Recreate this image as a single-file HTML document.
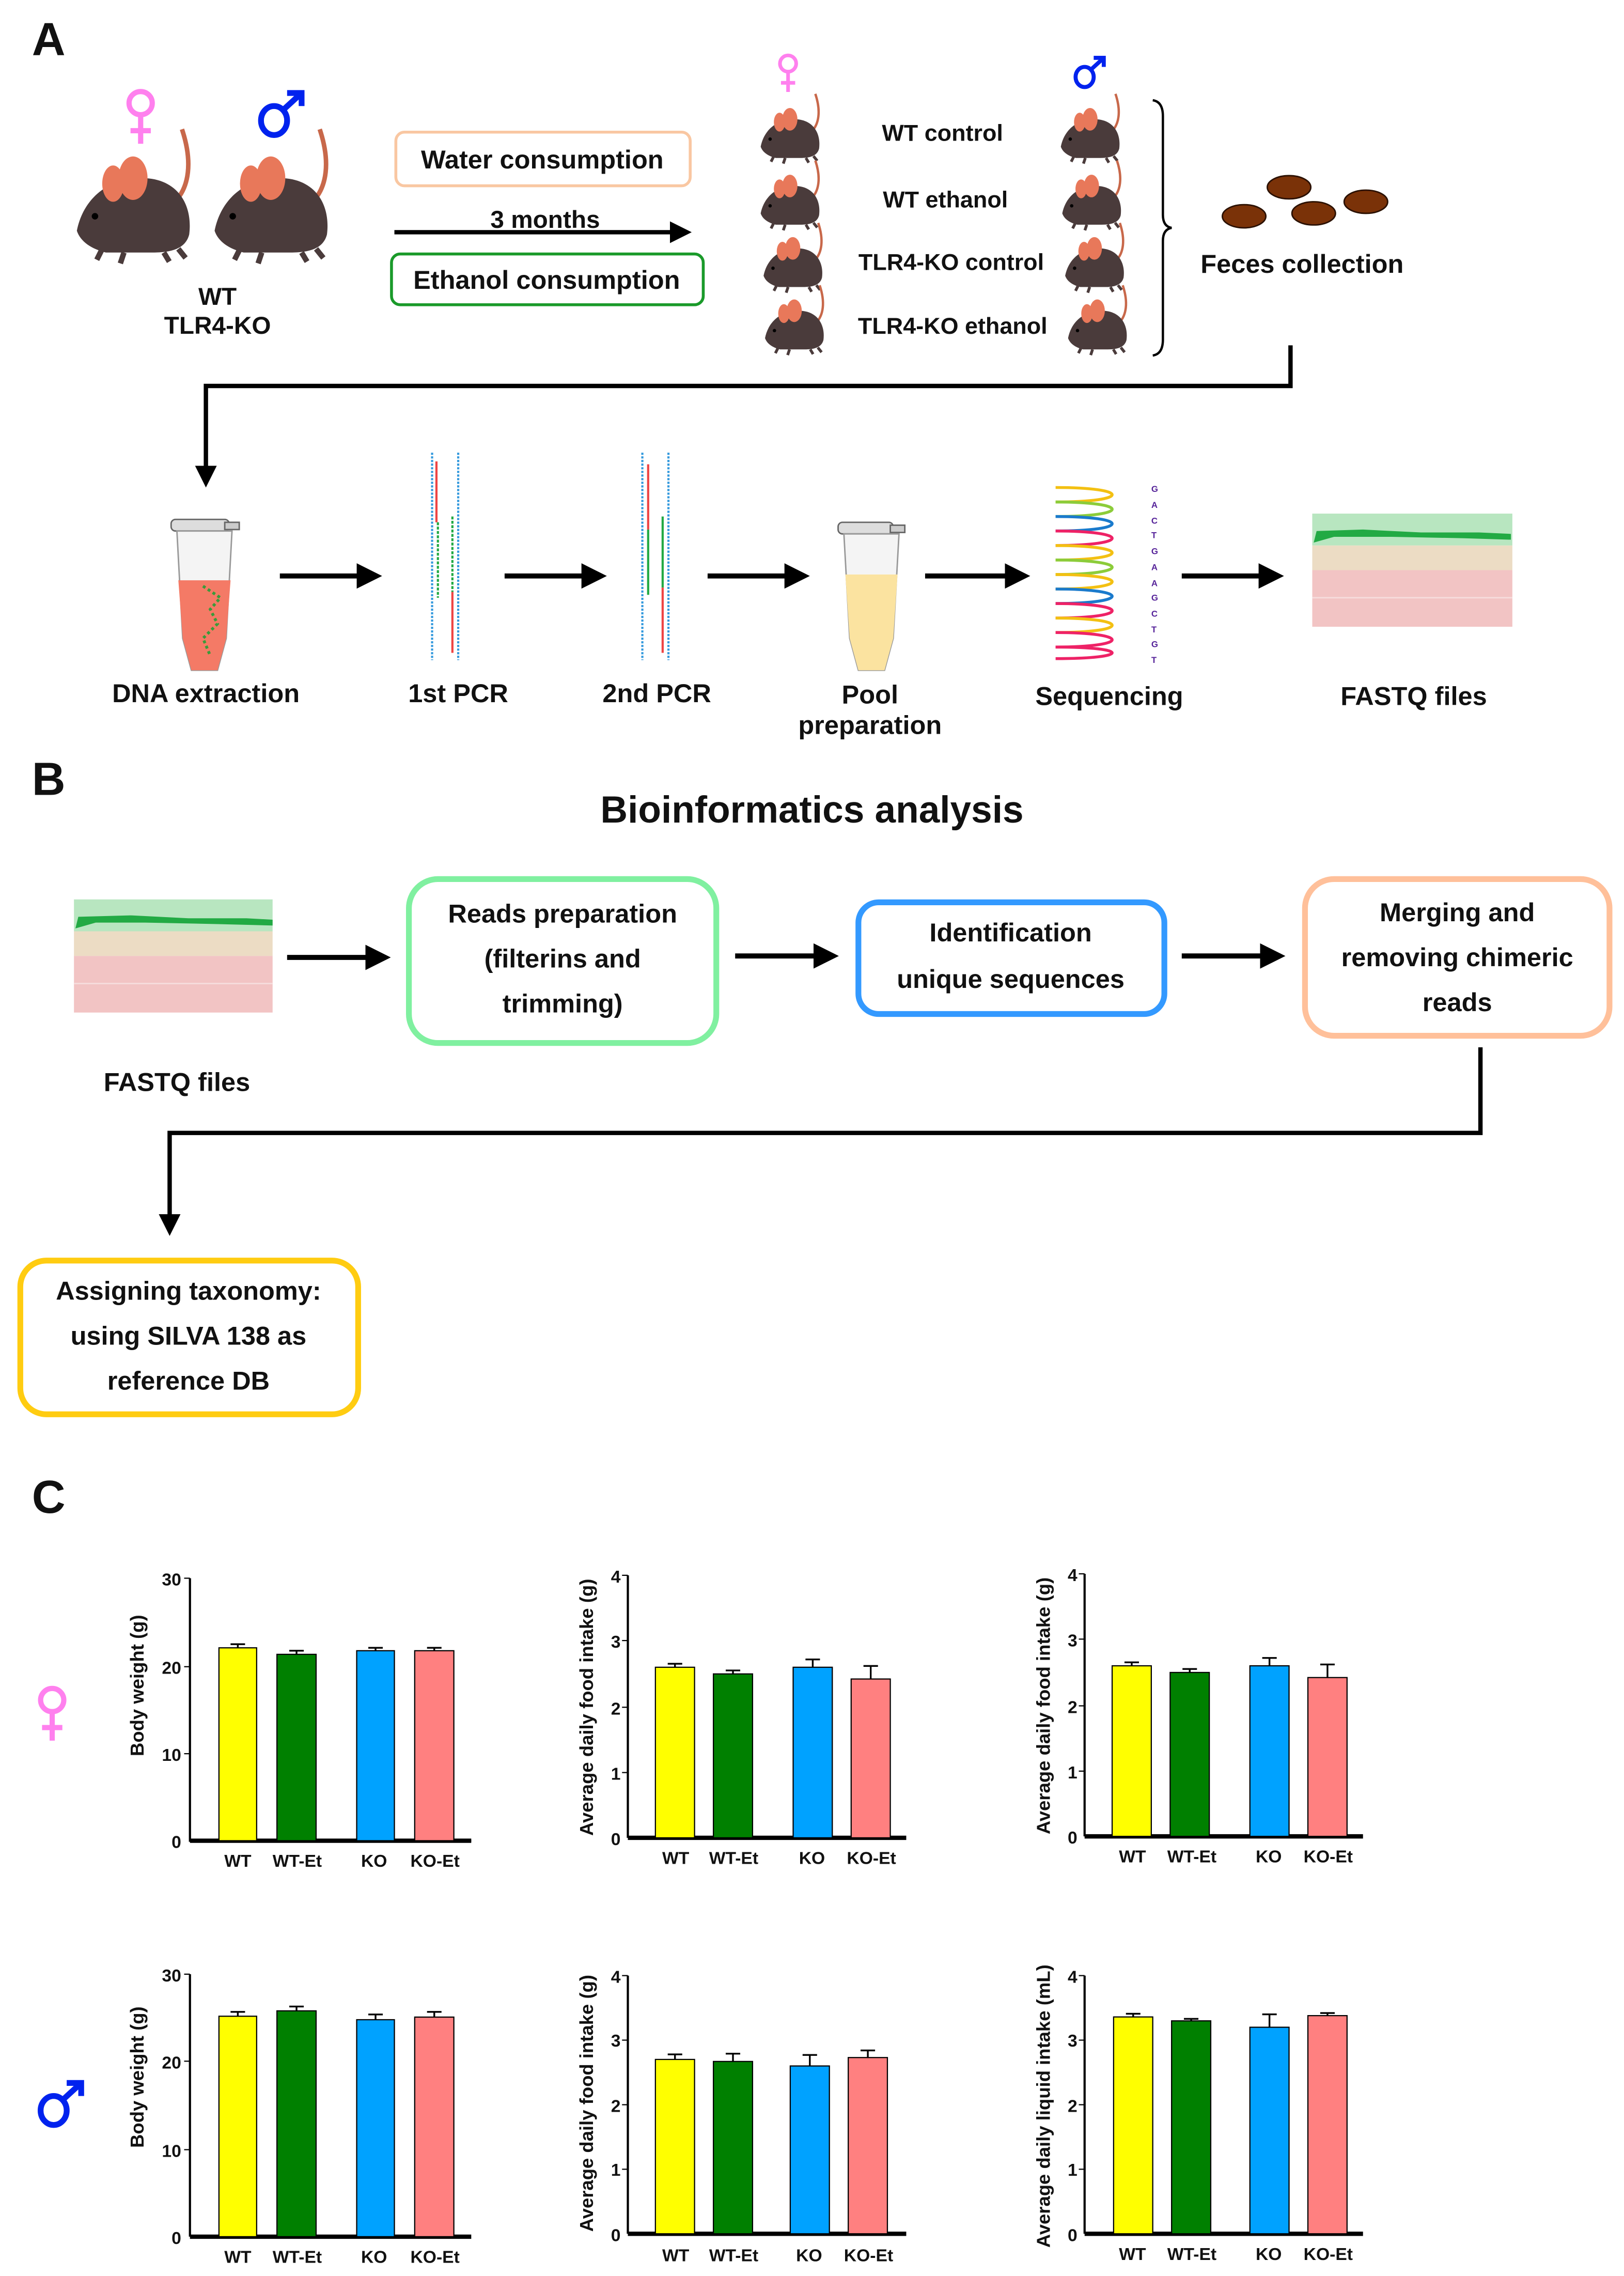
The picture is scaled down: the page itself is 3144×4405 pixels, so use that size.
<!DOCTYPE html>
<html><head><meta charset="utf-8"><style>
html,body{margin:0;padding:0;background:#fff;}
svg{display:block;}
text{font-family:"Liberation Sans",Arial,sans-serif;font-weight:bold;fill:#111;}
</style></head><body>
<svg width="3144" height="4405" viewBox="0 0 1120 1569" xmlns="http://www.w3.org/2000/svg">
<defs>
<symbol id="m" viewBox="0 0 80 80">
<path d="M58 44 C66 36 68 22 62 4" stroke="#c8684a" stroke-width="2.5" fill="none"/>
<path d="M4 60 C8 40 24 30 42 31 C60 32 68 46 66 62 C64 70 56 72 46 72 L20 72 C12 70 6 66 4 60 Z" fill="#4a3b3b"/>
<ellipse cx="24" cy="34" rx="6" ry="10" fill="#e8785a"/>
<ellipse cx="35" cy="31" rx="8" ry="12" fill="#e8785a"/>
<circle cx="14" cy="52" r="1.8" fill="#000"/>
<path d="M18 70 l-3 6 M30 72 l-2 6 M52 72 l3 5 M60 70 l4 5" stroke="#4a3b3b" stroke-width="3"/>
</symbol>
<symbol id="fem" viewBox="0 0 24 40"><g stroke="#ff80ee" stroke-width="3.6" fill="none"><circle cx="12" cy="11" r="8"/><path d="M12 19 V39 M5 30 H19"/></g></symbol>
<symbol id="mal" viewBox="0 0 36 36"><g stroke="#0022ee" stroke-width="4" fill="none"><ellipse cx="13" cy="23" rx="9" ry="10"/><path d="M20 15 L32 4 M22 4 H32 V13"/></g></symbol>
<marker id="ah" markerWidth="5" markerHeight="5" refX="4" refY="2.5" orient="auto" markerUnits="strokeWidth"><path d="M0 0 L5 2.5 L0 5 Z" fill="#000"/></marker>
</defs>

<!-- Section A -->
<text x="22" y="38" font-size="32">A</text>
<use href="#fem" x="85" y="60" width="24" height="40"/>
<use href="#mal" x="176" y="60" width="36" height="36"/>
<use href="#m" x="48" y="84" width="100" height="100"/>
<use href="#m" x="143" y="84" width="100" height="100"/>
<text x="150" y="210" font-size="17" text-anchor="middle">WT</text>
<text x="150" y="230" font-size="17" text-anchor="middle">TLR4-KO</text>

<rect x="273" y="91" width="203" height="37" rx="6" fill="#fff" stroke="#f9c7a2" stroke-width="2"/>
<text x="374" y="116" font-size="18" text-anchor="middle">Water consumption</text>
<line x1="272" y1="160" x2="474" y2="160" stroke="#000" stroke-width="3" marker-end="url(#ah)"/>
<text x="376" y="157" font-size="17" text-anchor="middle">3 months</text>
<rect x="270" y="175" width="215" height="35" rx="6" fill="#fff" stroke="#1a9a2a" stroke-width="2"/>
<text x="377" y="199" font-size="18" text-anchor="middle">Ethanol consumption</text>

<use href="#fem" x="535" y="36" width="17" height="28"/>
<use href="#mal" x="739" y="37" width="25" height="25"/>
<use href="#m" x="522" y="62" width="52" height="52"/>
<use href="#m" x="522" y="108" width="52" height="52"/>
<use href="#m" x="524" y="151" width="52" height="52"/>
<use href="#m" x="525" y="194" width="52" height="52"/>
<use href="#m" x="729" y="62" width="52" height="52"/>
<use href="#m" x="730" y="108" width="52" height="52"/>
<use href="#m" x="732" y="151" width="52" height="52"/>
<use href="#m" x="734" y="194" width="52" height="52"/>
<text x="650" y="97" font-size="16" text-anchor="middle">WT control</text>
<text x="652" y="143" font-size="16" text-anchor="middle">WT ethanol</text>
<text x="656" y="186" font-size="16" text-anchor="middle">TLR4-KO control</text>
<text x="657" y="230" font-size="16" text-anchor="middle">TLR4-KO ethanol</text>
<path d="M795 69 Q802 70 802 80 L802 148 Q802 156 808 157 Q802 158 802 166 L802 234 Q802 244 795 245" stroke="#000" stroke-width="1.6" fill="none"/>
<g fill="#7a3208" stroke="#2a1000" stroke-width="1">
<ellipse cx="858" cy="149" rx="15" ry="8"/>
<ellipse cx="889" cy="129" rx="15" ry="8"/>
<ellipse cx="906" cy="147" rx="15" ry="8"/>
<ellipse cx="942" cy="139" rx="15" ry="8"/>
</g>
<text x="898" y="188" font-size="18" text-anchor="middle">Feces collection</text>
<path d="M890 238 L890 266 L142 266 L142 333" stroke="#000" stroke-width="3" fill="none" marker-end="url(#ah)"/>

<!-- DNA tube -->
<g>
<rect x="118" y="358" width="40" height="8" rx="3" fill="#ddd" stroke="#666"/>
<rect x="155" y="360" width="10" height="5" fill="#ccc" stroke="#666"/>
<path d="M122 366 L160 366 L156 440 L150 462 L132 462 L126 440 Z" fill="#f4f4f4" stroke="#999"/>
<path d="M123 400 L159 400 L156 440 L150 462 L132 462 L126 440 Z" fill="#f47a66"/>
<path d="M140 404 L152 412 L145 420 L150 430 L140 440 L145 452" stroke="#3a9a3a" stroke-width="2" stroke-dasharray="2 2" fill="none"/>
</g>
<line x1="193" y1="397" x2="260" y2="397" stroke="#000" stroke-width="3.5" marker-end="url(#ah)"/>
<!-- PCR 1 -->
<g stroke-width="1.5" fill="none">
<line x1="298" y1="312" x2="298" y2="455" stroke="#3399dd" stroke-dasharray="1.5 1"/>
<line x1="316" y1="312" x2="316" y2="455" stroke="#3399dd" stroke-dasharray="1.5 1"/>
<line x1="301" y1="318" x2="301" y2="360" stroke="#ee4444"/>
<line x1="302" y1="360" x2="302" y2="412" stroke="#22aa44" stroke-dasharray="2 1"/>
<line x1="312" y1="356" x2="312" y2="408" stroke="#22aa44" stroke-dasharray="2 1"/>
<line x1="312" y1="408" x2="312" y2="450" stroke="#ee4444"/>
</g>
<line x1="348" y1="397" x2="415" y2="397" stroke="#000" stroke-width="3.5" marker-end="url(#ah)"/>
<!-- PCR 2 -->
<g stroke-width="1.5" fill="none">
<line x1="443" y1="312" x2="443" y2="455" stroke="#3399dd" stroke-dasharray="1.5 1"/>
<line x1="461" y1="312" x2="461" y2="455" stroke="#3399dd" stroke-dasharray="1.5 1"/>
<line x1="447" y1="320" x2="447" y2="365" stroke="#ee4444"/>
<line x1="447" y1="365" x2="447" y2="410" stroke="#22aa44"/>
<line x1="457" y1="356" x2="457" y2="405" stroke="#22aa44"/>
<line x1="457" y1="405" x2="457" y2="450" stroke="#ee4444"/>
</g>
<line x1="488" y1="397" x2="555" y2="397" stroke="#000" stroke-width="3.5" marker-end="url(#ah)"/>
<!-- Pool tube -->
<g>
<rect x="578" y="360" width="38" height="8" rx="3" fill="#ddd" stroke="#666"/>
<rect x="614" y="362" width="10" height="5" fill="#ccc" stroke="#666"/>
<path d="M582 368 L620 368 L616 440 L610 462 L592 462 L586 440 Z" fill="#f4f4f4" stroke="#999"/>
<path d="M583 396 L619 396 L616 440 L610 462 L592 462 L586 440 Z" fill="#fbe3a0"/>
</g>
<line x1="638" y1="397" x2="707" y2="397" stroke="#000" stroke-width="3.5" marker-end="url(#ah)"/>
<!-- Sequencing waves -->
<g fill="none" stroke-width="2">
<path d="M728 336 C780 336 780 346 728 346" stroke="#f3c012"/>
<path d="M728 346 C780 346 780 356 728 356" stroke="#8ccc3a"/>
<path d="M728 356 C780 356 780 366 728 366" stroke="#1a7acc"/>
<path d="M728 366 C780 366 780 376 728 376" stroke="#ee2266"/>
<path d="M728 376 C780 376 780 386 728 386" stroke="#f3c012"/>
<path d="M728 386 C780 386 780 396 728 396" stroke="#8ccc3a"/>
<path d="M728 396 C780 396 780 406 728 406" stroke="#f3c012"/>
<path d="M728 406 C780 406 780 416 728 416" stroke="#1a7acc"/>
<path d="M728 416 C780 416 780 426 728 426" stroke="#ee2266"/>
<path d="M728 426 C780 426 780 436 728 436" stroke="#f3c012"/>
<path d="M728 436 C780 436 780 446 728 446" stroke="#ee2266"/>
<path d="M728 446 C780 446 780 454 728 454" stroke="#ee2266"/>
</g>
<g font-size="6">
<text x="794" y="339" style="fill:#552299">G</text><text x="794" y="350" style="fill:#552299">A</text><text x="794" y="361" style="fill:#552299">C</text><text x="794" y="371" style="fill:#552299">T</text><text x="794" y="382" style="fill:#552299">G</text><text x="794" y="393" style="fill:#552299">A</text><text x="794" y="404" style="fill:#552299">A</text><text x="794" y="414" style="fill:#552299">G</text><text x="794" y="425" style="fill:#552299">C</text><text x="794" y="436" style="fill:#552299">T</text><text x="794" y="446" style="fill:#552299">G</text><text x="794" y="457" style="fill:#552299">T</text>
</g>
<line x1="815" y1="397" x2="882" y2="397" stroke="#000" stroke-width="3.5" marker-end="url(#ah)"/>
<!-- FASTQ A -->
<rect x="905" y="354" width="138" height="22" fill="#b8e6c0"/>
<rect x="905" y="376" width="138" height="17" fill="#ecdcc4"/>
<rect x="905" y="393" width="138" height="39" fill="#f2c4c4"/>
<line x1="905" y1="412" x2="1043" y2="412" stroke="#f6dcdc" stroke-width="1"/>
<path d="M906 374 L908 366 L940 365 L980 367 L1020 367 L1042 368 L1042 372 L1010 371 L960 370 L920 370 Z" fill="#22aa44"/>
<text x="142" y="484" font-size="18" text-anchor="middle">DNA extraction</text>
<text x="316" y="484" font-size="18" text-anchor="middle">1st PCR</text>
<text x="453" y="484" font-size="18" text-anchor="middle">2nd PCR</text>
<text x="600" y="485" font-size="18" text-anchor="middle">Pool</text>
<text x="600" y="506" font-size="18" text-anchor="middle">preparation</text>
<text x="765" y="486" font-size="18" text-anchor="middle">Sequencing</text>
<text x="975" y="486" font-size="18" text-anchor="middle">FASTQ files</text>

<!-- Section B -->
<text x="22" y="548" font-size="32">B</text>
<text x="560" y="567" font-size="26" text-anchor="middle">Bioinformatics analysis</text>
<rect x="51" y="620" width="137" height="22" fill="#b8e6c0"/>
<rect x="51" y="642" width="137" height="17" fill="#ecdcc4"/>
<rect x="51" y="659" width="137" height="39" fill="#f2c4c4"/>
<line x1="51" y1="678" x2="188" y2="678" stroke="#f6dcdc"/>
<path d="M52 640 L54 632 L90 631 L130 633 L170 633 L188 634 L188 638 L150 637 L100 636 L66 636 Z" fill="#22aa44"/>
<text x="122" y="752" font-size="18" text-anchor="middle">FASTQ files</text>
<line x1="198" y1="660" x2="266" y2="660" stroke="#000" stroke-width="3.5" marker-end="url(#ah)"/>
<rect x="282" y="606" width="212" height="113" rx="20" fill="#fff" stroke="#80f0a0" stroke-width="4"/>
<text x="388" y="636" font-size="18" text-anchor="middle">Reads preparation</text>
<text x="388" y="667" font-size="18" text-anchor="middle">(filterins and</text>
<text x="388" y="698" font-size="18" text-anchor="middle">trimming)</text>
<line x1="507" y1="659" x2="575" y2="659" stroke="#000" stroke-width="3.5" marker-end="url(#ah)"/>
<rect x="592" y="622" width="211" height="77" rx="14" fill="#fff" stroke="#3399ff" stroke-width="4"/>
<text x="697" y="649" font-size="18" text-anchor="middle">Identification</text>
<text x="697" y="681" font-size="18" text-anchor="middle">unique sequences</text>
<line x1="815" y1="659" x2="883" y2="659" stroke="#000" stroke-width="3.5" marker-end="url(#ah)"/>
<rect x="900" y="606" width="210" height="108" rx="20" fill="#fff" stroke="#ffc09a" stroke-width="4"/>
<text x="1005" y="635" font-size="18" text-anchor="middle">Merging and</text>
<text x="1005" y="666" font-size="18" text-anchor="middle">removing chimeric</text>
<text x="1005" y="697" font-size="18" text-anchor="middle">reads</text>
<path d="M1021 722 L1021 781 L117 781 L117 849" stroke="#000" stroke-width="3" fill="none" marker-end="url(#ah)"/>
<rect x="14" y="869" width="233" height="106" rx="18" fill="#fff" stroke="#ffcc11" stroke-width="4"/>
<text x="130" y="896" font-size="18" text-anchor="middle">Assigning taxonomy:</text>
<text x="130" y="927" font-size="18" text-anchor="middle">using SILVA 138 as</text>
<text x="130" y="958" font-size="18" text-anchor="middle">reference DB</text>

<!-- Section C -->
<text x="22" y="1043" font-size="32">C</text>
<use href="#fem" x="24" y="1160" width="24" height="42"/>
<use href="#mal" x="24" y="1432" width="36" height="36"/>

<g stroke="#000" stroke-width="0.8" font-size="11">
<!-- F chart1 -->
<path d="M131 1088 L131 1269 L325 1269" stroke-width="1.5" fill="none"/>
<path d="M131 1269 L325 1269" stroke-width="3" fill="none"/>
<path d="M127 1088 H131 M127 1149 H131 M127 1209 H131" fill="none"/>
<rect x="151" y="1136" width="26" height="133" fill="#ffff00"/>
<rect x="191" y="1140.5" width="27" height="128.5" fill="#008000"/>
<rect x="246" y="1138" width="26" height="131" fill="#00a2ff"/>
<rect x="286" y="1138" width="27" height="131" fill="#ff8080"/>
<path d="M164 1136 V1133.5 M159 1133.5 H169 M204.5 1140.5 V1138 M199.5 1138 H209.5 M259 1138 V1136 M254 1136 H264 M299.5 1138 V1136 M294.5 1136 H304.5" fill="none" stroke-width="1.2"/>
<!-- F chart2 -->
<path d="M433 1086 L433 1267" stroke-width="1.5" fill="none"/>
<path d="M433 1267 L625 1267" stroke-width="3" fill="none"/>
<path d="M429 1086 H433 M429 1131 H433 M429 1177 H433 M429 1222 H433" fill="none"/>
<rect x="452" y="1149.4" width="27" height="117.6" fill="#ffff00"/>
<rect x="492" y="1154" width="27" height="113" fill="#008000"/>
<rect x="547" y="1149.4" width="27" height="117.6" fill="#00a2ff"/>
<rect x="587" y="1157.5" width="27" height="109.5" fill="#ff8080"/>
<path d="M465.5 1149.4 V1147 M460.5 1147 H470.5 M505.5 1154 V1151.6 M500.5 1151.6 H510.5 M560.5 1149.4 V1144 M555.5 1144 H565.5 M600.5 1157.5 V1148.5 M595.5 1148.5 H605.5" fill="none" stroke-width="1.2"/>
<!-- F chart3 -->
<path d="M748 1085 L748 1266" stroke-width="1.5" fill="none"/>
<path d="M748 1266 L940 1266" stroke-width="3" fill="none"/>
<path d="M744 1085 H748 M744 1130 H748 M744 1176 H748 M744 1221 H748" fill="none"/>
<rect x="767" y="1148.4" width="27" height="117.6" fill="#ffff00"/>
<rect x="807" y="1153" width="27" height="113" fill="#008000"/>
<rect x="862" y="1148.4" width="27" height="117.6" fill="#00a2ff"/>
<rect x="902" y="1156.5" width="27" height="109.5" fill="#ff8080"/>
<path d="M780.5 1148.4 V1146 M775.5 1146 H785.5 M820.5 1153 V1150.6 M815.5 1150.6 H825.5 M875.5 1148.4 V1143 M870.5 1143 H880.5 M915.5 1156.5 V1147.5 M910.5 1147.5 H920.5" fill="none" stroke-width="1.2"/>
<!-- M chart1 -->
<path d="M131 1361 L131 1542" stroke-width="1.5" fill="none"/>
<path d="M131 1542 L325 1542" stroke-width="3" fill="none"/>
<path d="M127 1361 H131 M127 1421 H131 M127 1482 H131" fill="none"/>
<rect x="151" y="1390" width="26" height="152" fill="#ffff00"/>
<rect x="191" y="1386.3" width="27" height="155.7" fill="#008000"/>
<rect x="246" y="1392.4" width="26" height="149.6" fill="#00a2ff"/>
<rect x="286" y="1390.6" width="27" height="151.4" fill="#ff8080"/>
<path d="M164 1390 V1387 M159 1387 H169 M204.5 1386.3 V1383.3 M199.5 1383.3 H209.5 M259 1392.4 V1388.8 M254 1388.8 H264 M299.5 1390.6 V1387 M294.5 1387 H304.5" fill="none" stroke-width="1.2"/>
<!-- M chart2 -->
<path d="M433 1362 L433 1540" stroke-width="1.5" fill="none"/>
<path d="M433 1540 L625 1540" stroke-width="3" fill="none"/>
<path d="M429 1362 H433 M429 1406.5 H433 M429 1451 H433 M429 1495.5 H433" fill="none"/>
<rect x="452" y="1419.8" width="27" height="120.2" fill="#ffff00"/>
<rect x="492" y="1421.2" width="27" height="118.8" fill="#008000"/>
<rect x="545" y="1424.3" width="27" height="115.7" fill="#00a2ff"/>
<rect x="585" y="1418.5" width="27" height="121.5" fill="#ff8080"/>
<path d="M465.5 1419.8 V1416.3 M460.5 1416.3 H470.5 M505.5 1421.2 V1415.8 M500.5 1415.8 H510.5 M558.5 1424.3 V1416.7 M553.5 1416.7 H563.5 M598.5 1418.5 V1413.6 M593.5 1413.6 H603.5" fill="none" stroke-width="1.2"/>
<!-- M chart3 -->
<path d="M748 1362 L748 1540" stroke-width="1.5" fill="none"/>
<path d="M748 1540 L940 1540" stroke-width="3" fill="none"/>
<path d="M744 1362 H748 M744 1406.5 H748 M744 1451 H748 M744 1495.5 H748" fill="none"/>
<rect x="768" y="1390.5" width="27" height="149.5" fill="#ffff00"/>
<rect x="808" y="1393.2" width="27" height="146.8" fill="#008000"/>
<rect x="862" y="1397.6" width="27" height="142.4" fill="#00a2ff"/>
<rect x="902" y="1389.6" width="27" height="150.4" fill="#ff8080"/>
<path d="M781.5 1390.5 V1388.3 M776.5 1388.3 H786.5 M821.5 1393.2 V1391.8 M816.5 1391.8 H826.5 M875.5 1397.6 V1388.7 M870.5 1388.7 H880.5 M915.5 1389.6 V1387.8 M910.5 1387.8 H920.5" fill="none" stroke-width="1.2"/>
</g>

<g font-size="12" text-anchor="end">
<text x="125" y="1093">30</text><text x="125" y="1154">20</text><text x="125" y="1214">10</text><text x="125" y="1274">0</text>
<text x="428" y="1091">4</text><text x="428" y="1136">3</text><text x="428" y="1182">2</text><text x="428" y="1227">1</text><text x="428" y="1272">0</text>
<text x="743" y="1090">4</text><text x="743" y="1135">3</text><text x="743" y="1181">2</text><text x="743" y="1226">1</text><text x="743" y="1271">0</text>
<text x="125" y="1366">30</text><text x="125" y="1426">20</text><text x="125" y="1487">10</text><text x="125" y="1547">0</text>
<text x="428" y="1367">4</text><text x="428" y="1411">3</text><text x="428" y="1456">2</text><text x="428" y="1500">1</text><text x="428" y="1545">0</text>
<text x="743" y="1367">4</text><text x="743" y="1411">3</text><text x="743" y="1456">2</text><text x="743" y="1500">1</text><text x="743" y="1545">0</text>
</g>
<g font-size="12" text-anchor="middle">
<text x="164" y="1287">WT</text><text x="205" y="1287">WT-Et</text><text x="258" y="1287">KO</text><text x="300" y="1287">KO-Et</text>
<text x="466" y="1285">WT</text><text x="506" y="1285">WT-Et</text><text x="560" y="1285">KO</text><text x="601" y="1285">KO-Et</text>
<text x="781" y="1284">WT</text><text x="822" y="1284">WT-Et</text><text x="875" y="1284">KO</text><text x="916" y="1284">KO-Et</text>
<text x="164" y="1560">WT</text><text x="205" y="1560">WT-Et</text><text x="258" y="1560">KO</text><text x="300" y="1560">KO-Et</text>
<text x="466" y="1559">WT</text><text x="506" y="1559">WT-Et</text><text x="558" y="1559">KO</text><text x="599" y="1559">KO-Et</text>
<text x="781" y="1558">WT</text><text x="822" y="1558">WT-Et</text><text x="875" y="1558">KO</text><text x="916" y="1558">KO-Et</text>
</g>
<g font-size="13" text-anchor="middle">
<text transform="translate(99,1162) rotate(-90)">Body weight (g)</text>
<text transform="translate(409,1177) rotate(-90)">Average daily food intake (g)</text>
<text transform="translate(724,1176) rotate(-90)">Average daily food intake (g)</text>
<text transform="translate(99,1432) rotate(-90)">Body weight (g)</text>
<text transform="translate(409,1450) rotate(-90)">Average daily food intake (g)</text>
<text transform="translate(724,1452) rotate(-90)">Average daily liquid intake (mL)</text>
</g>
</svg>
</body></html>
